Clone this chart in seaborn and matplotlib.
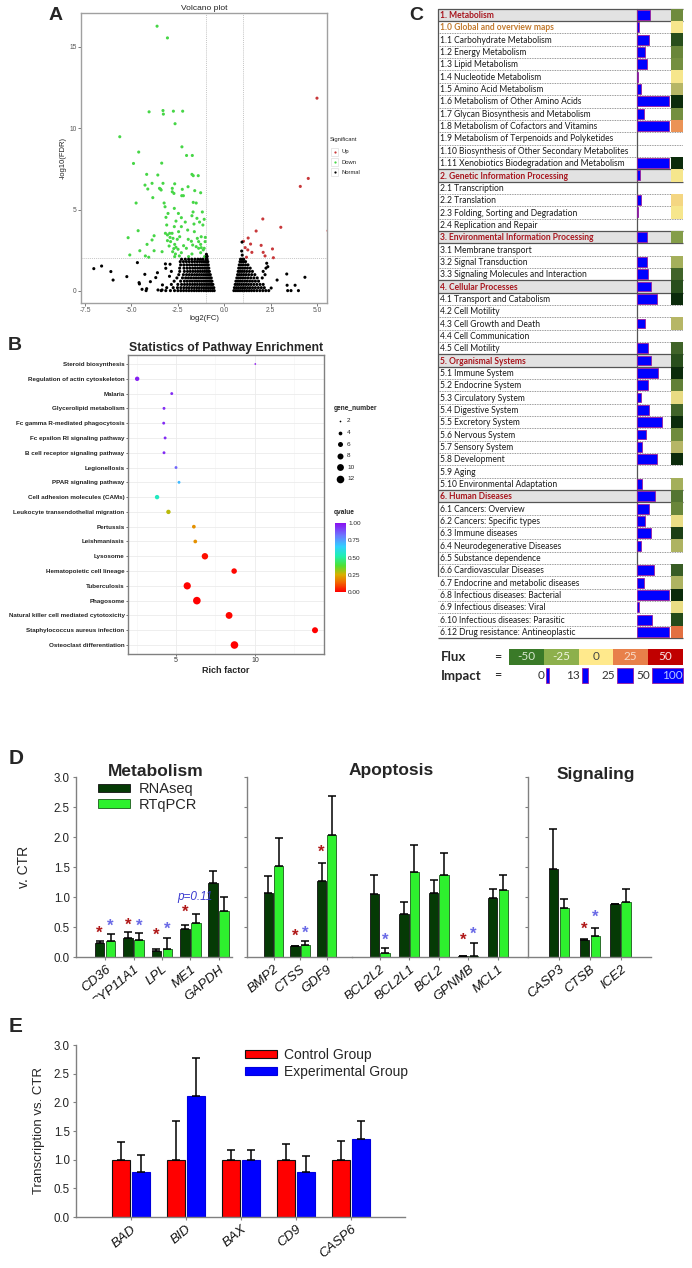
import numpy as np
import pandas as pd
import matplotlib
matplotlib.use("Agg")
import matplotlib.pyplot as plt
import seaborn as sns
from matplotlib.colors import LinearSegmentedColormap, Normalize
from matplotlib.patches import Rectangle, Patch
from matplotlib.lines import Line2D
from matplotlib.transforms import Bbox, TransformedBbox
from matplotlib.cm import ScalarMappable
from matplotlib.ticker import FormatStrFormatter

nan = np.nan

# ======================= DATA =======================
# ---- Panel A: volcano plot (log2FC, -log10 FDR) ----
up_pts = [(5.0, 11.84), (4.53, 6.91), (4.10, 6.42), (3.05, 3.91), (2.08, 4.42), (1.72, 3.68),
          (1.29, 3.25), (1.04, 3.05), (1.13, 2.66), (1.42, 2.88), (1.99, 2.80), (1.27, 2.52),
          (1.49, 2.37), (2.10, 2.37), (2.60, 2.58), (2.20, 2.15), (2.65, 2.04), (1.20, 2.07), (5.6, 3.7)]
down_pts = [(-3.62, 16.26), (-3.06, 15.54), (-4.05, 11.0), (-3.30, 11.08), (-3.28, 10.86), (-2.74, 11.04),
            (-2.24, 11.04), (-2.65, 10.27), (-5.63, 9.47), (-2.28, 8.85), (-4.61, 8.53), (-2.03, 8.32),
            (-1.72, 8.32), (-4.89, 7.83), (-3.37, 7.85), (-4.18, 7.16), (-3.58, 7.12), (-1.74, 7.16),
            (-1.67, 7.08), (-1.40, 7.08), (-3.89, 6.61), (-3.30, 6.61), (-4.27, 6.50), (-2.67, 6.58),
            (-4.12, 6.26), (-3.49, 6.30), (-3.44, 6.26), (-3.40, 6.20), (-2.80, 6.30), (-1.95, 6.40),
            (-2.26, 6.24), (-1.59, 6.16), (-1.27, 6.03), (-2.80, 6.09), (-2.71, 5.99), (-2.29, 5.85),
            (-2.20, 5.85), (-3.85, 5.73), (-4.75, 5.40), (-3.24, 5.40), (-1.67, 5.44), (-1.51, 5.40),
            (-3.19, 5.17), (-2.69, 5.07), (-1.68, 4.85), (-1.18, 4.85), (-3.03, 4.76), (-2.47, 4.76),
            (-1.74, 4.62), (-3.14, 4.52), (-2.31, 4.50), (-1.47, 4.46), (-1.08, 4.40), (-2.60, 4.29),
            (-2.10, 4.23), (-1.33, 4.23), (-3.10, 4.05), (-1.63, 4.11), (-1.15, 4.05), (-2.69, 3.95),
            (-2.31, 3.95), (-4.64, 3.70), (-1.97, 3.74), (-1.61, 3.64), (-2.46, 3.64), (-3.17, 3.54),
            (-2.94, 3.54), (-2.81, 3.54), (-3.06, 3.44), (-3.78, 3.39), (-2.40, 3.33), (-1.24, 3.33),
            (-5.18, 3.27), (-2.92, 3.29), (-2.76, 3.23), (-1.45, 3.23), (-1.02, 3.29), (-2.53, 3.17),
            (-1.94, 3.17), (-3.89, 3.13), (-3.06, 3.09), (-2.89, 3.03), (-1.77, 3.05), (-1.38, 3.03),
            (-1.03, 3.03), (-4.16, 2.86), (-2.67, 2.86), (-2.19, 2.78), (-1.70, 2.82), (-1.27, 2.86),
            (-2.97, 2.76), (-2.60, 2.68), (-1.51, 2.72), (-1.24, 2.66), (-1.08, 2.62), (-2.72, 2.60),
            (-2.49, 2.56), (-2.04, 2.62), (-1.38, 2.62), (-4.55, 2.47), (-3.78, 2.47), (-3.35, 2.41),
            (-2.78, 2.41), (-1.13, 2.52), (-2.31, 2.35), (-2.63, 2.27), (-1.74, 2.27), (-1.27, 2.35),
            (-5.09, 2.21), (-4.25, 2.15), (-4.07, 2.07), (-2.67, 2.11), (-2.42, 2.15), (-1.92, 2.11),
            (-1.06, 2.11)]
normal_scatter = [(-7.03, 1.37), (-6.61, 1.53), (-6.11, 1.19), (-5.99, 0.67), (-5.25, 0.88), (-4.68, 1.74),
                  (-4.59, 0.51), (-4.57, 0.43), (-4.28, 1.02), (-4.43, 0.10), (-4.18, 0.14), (-4.21, 0.02),
                  (-3.98, 0.57), (-3.60, 1.12), (-3.69, 0.82), (-3.57, 0.06), (-3.35, 0.06), (-3.33, 0.37),
                  (-3.17, 1.66), (-3.15, 1.39), (-2.92, 1.64), (-2.85, 1.2), (-2.95, 0.9), (3.37, 1.04),
                  (3.39, 0.35), (3.82, 0.35), (3.42, 0.02), (3.60, 0.02), (4.0, 0.02), (4.35, 0.84),
                  (2.85, 0.67), (2.53, 0.18), (2.35, 1.49), (2.29, 1.70), (0.96, 3.0), (0.94, 2.45),
                  (0.97, 2.2), (-0.95, 2.1), (-0.92, 2.12), (-0.96, 2.25)]
normal_rows_left = [
    (0.02, [-3.4, -3.15, -2.9, -2.68, -2.5, -2.34, -2.19, -2.04, -1.9, -1.76, -1.62, -1.49, -1.36, -1.23, -1.1, -0.98, -0.86, -0.75, -0.64, -0.54]),
    (0.2, [-3.1, -2.75, -2.52, -2.34, -2.18, -2.03, -1.89, -1.75, -1.61, -1.48, -1.35, -1.22, -1.1, -0.98, -0.87, -0.76, -0.66, -0.56]),
    (0.4, [-2.85, -2.5, -2.3, -2.14, -1.99, -1.85, -1.71, -1.58, -1.45, -1.32, -1.2, -1.08, -0.97, -0.87, -0.77, -0.68, -0.61]),
    (0.6, [-2.7, -2.35, -2.15, -2.0, -1.86, -1.72, -1.59, -1.46, -1.34, -1.22, -1.1, -0.99, -0.89, -0.8, -0.72, -0.66]),
    (0.8, [-2.55, -2.25, -2.08, -1.93, -1.79, -1.65, -1.52, -1.39, -1.27, -1.15, -1.04, -0.94, -0.85, -0.77, -0.7]),
    (1.0, [-2.45, -2.2, -2.03, -1.88, -1.74, -1.6, -1.47, -1.34, -1.22, -1.1, -0.99, -0.9, -0.82, -0.75]),
    (1.2, [-2.4, -2.15, -1.98, -1.83, -1.69, -1.55, -1.42, -1.29, -1.17, -1.06, -0.96, -0.87, -0.8]),
    (1.4, [-2.4, -2.17, -2.0, -1.85, -1.7, -1.56, -1.43, -1.3, -1.18, -1.07, -0.98, -0.9, -0.83]),
    (1.6, [-2.35, -2.18, -2.02, -1.87, -1.72, -1.58, -1.45, -1.32, -1.2, -1.09, -1.0, -0.92, -0.86]),
    (1.8, [-2.37, -2.2, -2.04, -1.89, -1.74, -1.6, -1.46, -1.33, -1.21, -1.1, -1.01, -0.93, -0.88]),
    (1.95, [-2.3, -2.1, -1.92, -1.75, -1.58, -1.42, -1.28, -1.15, -0.98, -0.92]),
]
normal_rows_right = [
    (0.02, [0.52, 0.63, 0.74, 0.85, 0.97, 1.09, 1.21, 1.34, 1.47, 1.61, 1.76, 1.92, 2.08, 2.24, 2.4]),
    (0.2, [0.55, 0.66, 0.77, 0.89, 1.01, 1.13, 1.26, 1.39, 1.53, 1.68, 1.84, 2.0, 2.16]),
    (0.4, [0.59, 0.7, 0.81, 0.93, 1.05, 1.18, 1.31, 1.45, 1.6, 1.76, 1.93, 2.1]),
    (0.6, [0.63, 0.74, 0.85, 0.97, 1.1, 1.23, 1.37, 1.52, 1.68, 1.85]),
    (0.8, [0.68, 0.78, 0.89, 1.01, 1.14, 1.28, 1.43, 1.6, 1.78, 2.05]),
    (1.0, [0.72, 0.82, 0.93, 1.05, 1.18, 1.32, 1.48, 1.65, 2.2]),
    (1.2, [0.75, 0.85, 0.96, 1.08, 1.21, 1.36, 1.52, 2.1]),
    (1.4, [0.78, 0.88, 0.99, 1.11, 1.25, 1.4, 2.25]),
    (1.6, [0.81, 0.91, 1.02, 1.15, 1.28]),
    (1.8, [0.85, 0.95, 1.05, 1.15]),
    (1.95, [0.88, 0.97, 1.05]),
]
volcano_xticks = [-7.5, -5.0, -2.5, 0.0, 2.5, 5.0]
volcano_yticks = [0, 5, 10, 15]

# ---- Panel B: pathway enrichment ----
pathways = ["Steroid biosynthesis", "Regulation of actin cytoskeleton", "Malaria", "Glycerolipid metabolism",
            "Fc gamma R-mediated phagocytosis", "Fc epsilon RI signaling pathway",
            "B cell receptor signaling pathway", "Legionellosis", "PPAR signaling pathway",
            "Cell adhesion molecules (CAMs)", "Leukocyte transendothelial migration", "Pertussis",
            "Leishmaniasis", "Lysosome", "Hematopoietic cell lineage", "Tuberculosis", "Phagosome",
            "Natural killer cell mediated cytotoxicity", "Staphylococcus aureus infection",
            "Osteoclast differentiation"]
rich_factor = [10.02, 2.54, 4.73, 4.24, 4.22, 4.31, 4.24, 5.0, 5.19, 3.80, 4.52, 6.13, 6.22, 6.83,
               8.68, 5.71, 6.32, 8.36, 13.8, 8.70]
gene_number = [2, 5, 3, 3, 3, 3, 3, 3, 3, 5, 5, 4, 4, 9, 7, 11, 12, 10, 8, 12]
qvalue = [1.0, 0.97, 0.95, 0.95, 0.95, 0.95, 0.95, 0.85, 0.70, 0.55, 0.28, 0.2, 0.2, 0.02, 0.01,
          0.005, 0.0, 0.01, 0.0, 0.0]
size_legend_values = [2, 4, 6, 8, 10, 12]
q_legend_values = [0.0, 0.25, 0.5, 0.75, 1.0]

# ---- Panel C: KEGG table ----
c_labels = ["1. Metabolism", "1.0 Global and overview maps", "1.1 Carbohydrate Metabolism",
            "1.2 Energy Metabolism", "1.3 Lipid Metabolism", "1.4 Nucleotide Metabolism",
            "1.5 Amino Acid Metabolism", "1.6 Metabolism of Other Amino Acids",
            "1.7 Glycan Biosynthesis and Metabolism", "1.8 Metabolism of Cofactors and Vitamins",
            "1.9 Metabolism of Terpenoids and Polyketides", "1.10 Biosynthesis of Other Secondary Metabolites",
            "1.11 Xenobiotics Biodegradation and Metabolism", "2. Genetic Information Processing",
            "2.1 Transcription", "2.2 Translation", "2.3 Folding, Sorting and Degradation",
            "2.4 Replication and Repair", "3. Environmental Information Processing",
            "3.1 Membrane transport", "3.2 Signal Transduction", "3.3 Signaling Molecules and Interaction",
            "4. Cellular Processes", "4.1 Transport and Catabolism", "4.2 Cell Motility",
            "4.3 Cell Growth and Death", "4.4 Cell Communication", "4.5 Cell Motility",
            "5. Organismal Systems", "5.1 Immune System", "5.2 Endocrine System", "5.3 Circulatory System",
            "5.4 Digestive System", "5.5 Excretory System", "5.6 Nervous System", "5.7 Sensory System",
            "5.8 Development", "5.9 Aging", "5.10 Environmental Adaptation", "6. Human Diseases",
            "6.1 Cancers: Overview", "6.2 Cancers: Specific types", "6.3 Immune diseases",
            "6.4 Neurodegenerative Diseases", "6.5 Substance dependence", "6.6 Cardiovascular Diseases",
            "6.7 Endocrine and metabolic diseases", "6.8 Infectious diseases: Bacterial",
            "6.9 Infectious diseases: Viral", "6.10 Infectious diseases: Parasitic",
            "6.12 Drug resistance: Antineoplastic"]
c_impact = [41, 7, 37, 26, 30, 3, 11, 100, 21, 100, nan, nan, 100, 9, nan, 12, 4, nan, 31, nan, 30, 34,
            42, 63, nan, 24, nan, 33, 42, 66, 33, 13, 36, 78, 28, 14, 61, nan, 14, 55, 38, 25, 43, 13,
            nan, 52, 21, 100, 5, 47, 100]
c_flux = [-40, 0, -70, -42, -38, 0, -12, -90, -38, 20, nan, nan, -90, 0, nan, 4, 0, nan, -30, nan, -18,
          -58, -70, -90, nan, -12, nan, -58, -70, -90, -45, -3, -58, -90, -40, -12, -90, nan, -18, -50,
          -42, -2, -78, -15, nan, -62, -15, -90, -2, -72, 28]
flux_legend_values = ["-50", "-25", "0", "25", "50"]
impact_legend_values = ["0", "13", "25", "50"]

# ---- Panel D: RNAseq vs RTqPCR ----
methods_d = ["RNAseq", "RTqPCR"]
metab_genes = ["CD36", "CYP11A1", "LPL", "ME1", "GAPDH"]
metab_rna = [0.24, 0.32, 0.10, 0.47, 1.23]
metab_rna_err = [0.26, 0.42, 0.14, 0.53, 1.43]
metab_qpcr = [0.26, 0.29, 0.13, 0.56, 0.77]
metab_qpcr_err = [0.38, 0.40, 0.31, 0.71, 1.00]
metab_star_rna = [0.40, 0.53, 0.36, 0.74, nan]
metab_star_qpcr = [0.52, 0.52, 0.46, nan, nan]

apop1_genes = ["BMP2", "CTSS", "GDF9"]
apop1_rna = [1.07, 0.18, 1.27]
apop1_rna_err = [1.35, 0.18, 1.56]
apop1_qpcr = [1.52, 0.20, 2.03]
apop1_qpcr_err = [1.99, 0.27, 2.69]
apop1_star_rna = [nan, 0.35, 1.74]
apop1_star_qpcr = [nan, 0.40, nan]

apop2_genes = ["BCL2L2", "BCL2L1", "BCL2", "GPNMB", "MCL1"]
apop2_rna = [1.05, 0.71, 1.06, 0.02, 0.99]
apop2_rna_err = [1.37, 0.92, 1.29, 0.02, 1.14]
apop2_qpcr = [0.06, 1.42, 1.36, 0.01, 1.12]
apop2_qpcr_err = [0.15, 1.86, 1.74, 0.23, 1.37]
apop2_star_rna = [nan, nan, nan, 0.28, nan]
apop2_star_qpcr = [0.28, nan, nan, 0.38, nan]

sig_genes = ["CASP3", "CTSB", "ICE2"]
sig_rna = [1.46, 0.29, 0.88]
sig_rna_err = [2.13, 0.30, 0.89]
sig_qpcr = [0.82, 0.35, 0.92]
sig_qpcr_err = [0.97, 0.48, 1.14]
sig_star_rna = [nan, 0.47, nan]
sig_star_qpcr = [nan, 0.66, nan]

# ---- Panel E ----
groups_e = ["Control Group", "Experimental Group"]
e_genes = ["BAD", "BID", "BAX", "CD9", "CASP6"]
e_ctrl = [1.0, 1.0, 1.0, 1.0, 1.0]
e_ctrl_err = [1.31, 1.67, 1.17, 1.28, 1.32]
e_exp = [0.78, 2.11, 1.0, 0.78, 1.36]
e_exp_err = [1.09, 2.77, 1.17, 1.06, 1.67]
bar_yticks = [0.0, 0.5, 1.0, 1.5, 2.0, 2.5, 3.0]

# ======================= FIGURE =======================
sns.set_theme(style="white")
plt.rcParams['font.family'] = ['Liberation Sans', 'DejaVu Sans']
plt.rcParams['axes.linewidth'] = 0.8

W, H = 692, 1268
fig = plt.figure(figsize=(W / 100, H / 100), dpi=100)
fig.patch.set_facecolor('white')


def px_ax(x0, y0, x1, y1, **kw):
    return fig.add_axes([x0 / W, 1 - y1 / H, (x1 - x0) / W, (y1 - y0) / H], **kw)


def fx(x):
    return x / W


def fy(y):
    return 1 - y / H


def ftext(x, y, s, **kw):
    return fig.text(fx(x), fy(y), s, **kw)


NARROW = ['Liberation Sans Narrow', 'Liberation Sans', 'DejaVu Sans']
CAL = ['Lato', 'DejaVu Sans']

# ---------------- Panel A ----------------
recs = [(x, y, 'Up') for x, y in up_pts] + [(x, y, 'Down') for x, y in down_pts]
recs += [(x, y, 'Normal') for x, y in normal_scatter]
for yv, xs in normal_rows_left + normal_rows_right:
    recs += [(x, yv, 'Normal') for x in xs]
dfA = pd.DataFrame(recs, columns=['log2FC', 'nlogFDR', 'Significant'])
volc_pal = {'Up': '#C8383A', 'Down': '#46D646', 'Normal': '#000000'}

axA = px_ax(81, 13, 327, 303)
axA.axvline(-1, color='#B0B0B0', lw=0.5, ls=(0, (1.5, 1.5)), zorder=1)
axA.axvline(1, color='#B0B0B0', lw=0.5, ls=(0, (1.5, 1.5)), zorder=1)
axA.axhline(2, color='#B0B0B0', lw=0.5, ls=(0, (1.5, 1.5)), zorder=1)
sns.scatterplot(data=dfA, x='log2FC', y='nlogFDR', hue='Significant', palette=volc_pal, s=5,
                linewidth=0, ax=axA, legend=False, zorder=3)
axA.set_xlim(-7.72, 5.54)
axA.set_ylim(-0.74, 17.07)
axA.set_xticks(volcano_xticks)
axA.set_xticklabels([f"{v:.1f}" for v in volcano_xticks])
axA.set_yticks(volcano_yticks)
axA.tick_params(labelsize=4.8, labelcolor='#555555', color='#444444', length=2, width=0.5, pad=1,
                bottom=True, left=True)
for s in axA.spines.values():
    s.set_color('#A0A0A0')
    s.set_linewidth(1.0)
axA.set_xlabel('log2(FC)', fontsize=5.5, labelpad=0.5, color='#222222')
axA.set_ylabel('-log10(FDR)', fontsize=5.5, labelpad=2, color='#222222')
axA.set_title('Volcano plot', fontsize=6, pad=2, color='#222222')
ftext(49, 15, 'A', fontsize=14, fontweight='bold', va='center')
# legend
ftext(330, 139, 'Significant', fontsize=4.2, va='center', color='#222222')
for i, (lab, col) in enumerate([('Up', volc_pal['Up']), ('Down', volc_pal['Down']), ('Normal', 'black')]):
    yc = 152 + i * 10
    fig.add_artist(Rectangle((fx(331), fy(yc + 4)), 7 / W, 8 / H, transform=fig.transFigure,
                             facecolor='white', edgecolor='#DDDDDD', lw=0.5))
    fig.add_artist(Line2D([fx(334.5)], [fy(yc)], marker='o', ms=1.6, color=col, mec='none',
                          transform=fig.transFigure))
    ftext(341, yc, lab, fontsize=4.2, va='center', color='#222222')

# ---------------- Panel B ----------------
q_cmap = LinearSegmentedColormap.from_list('q', [
    (0.0, '#FF0000'), (0.15, '#F07000'), (0.25, '#D8B000'), (0.38, '#50E030'), (0.52, '#20F0B0'),
    (0.66, '#30D0FF'), (0.82, '#6C78FF'), (1.0, '#8A10F0')])
dfB = pd.DataFrame({'pathway': pathways, 'rich': rich_factor, 'gene_number': gene_number,
                    'qvalue': qvalue})
rowB = 14.79
topB = 364
axB = px_ax(128, topB - 0.6 * rowB, 324, topB + 19.6 * rowB)
axB.set_axisbelow(True)
sns.scatterplot(data=dfB, x='rich', y='pathway', size='gene_number', sizes=(1.5, 30), size_norm=(2, 12),
                hue='qvalue', palette=q_cmap, hue_norm=(0, 1), legend=False, linewidth=0, ax=axB, zorder=3)
axB.set_ylim(19.6, -0.6)
axB.set_xlim(1.96, 14.37)
axB.set_xticks([5, 10])
axB.set_xticks([2.5, 7.5, 12.5], minor=True)
axB.grid(True, which='major', color='#EBEBEB', lw=0.6)
axB.grid(True, which='minor', axis='x', color='#F3F3F3', lw=0.4)
axB.tick_params(axis='y', labelsize=4.5, labelcolor='#222222', length=1.5, width=0.5, pad=1, left=True,
                color='#333333')
axB.tick_params(axis='x', labelsize=5, labelcolor='#333333', length=1.5, width=0.5, pad=1, bottom=True,
                color='#333333')
axB.tick_params(axis='x', which='minor', length=0)
for t in axB.get_yticklabels():
    t.set_fontweight('bold')
for s in axB.spines.values():
    s.set_color('#808080')
    s.set_linewidth(1.0)
axB.set_xlabel('Rich factor', fontsize=6.5, fontweight='bold', labelpad=1.5)
axB.set_ylabel('')
axB.set_title('Statistics of Pathway Enrichment', fontsize=8.8, fontweight='bold', pad=3)
ftext(8, 345, 'B', fontsize=14, fontweight='bold', va='center')

# legend: gene_number
axBL = px_ax(328, 400, 380, 500)
axBL.set_xlim(328, 380)
axBL.set_ylim(500, 400)
axBL.axis('off')
ftext(334, 409, 'gene_number', fontsize=4.8, fontweight='bold', va='center')
for i, v in enumerate(size_legend_values):
    yc = 421 + i * 11.6
    axBL.scatter([340], [yc], s=1.5 + (v - 2) * 28.5 / 10, color='black', linewidth=0)
    axBL.text(347, yc, str(v), fontsize=4.6, va='center', color='#222222')
ftext(334, 513, 'qvalue', fontsize=4.8, fontweight='bold', va='center')
caxB = px_ax(335, 523, 346, 592)
cbB = fig.colorbar(ScalarMappable(norm=Normalize(0, 1), cmap=q_cmap), cax=caxB, ticks=q_legend_values)
cbB.outline.set_visible(False)
cbB.ax.tick_params(length=2, color='white', direction='in', labelsize=4.6, pad=1.5, width=0.5)
cbB.ax.set_yticklabels([f"{v:.2f}" for v in q_legend_values])

# ---------------- Panel C ----------------
nC = len(c_labels)
is_header = [lab.split(' ')[0].count('.') == 1 and lab.split(' ')[0].endswith('.') for lab in c_labels]
c_top, c_row = 8.8, 12.34
c_bot = c_top + nC * c_row
ext = (683 - 438) / (637 - 438)
axCt = px_ax(438, c_top, 637, c_bot)
axCt.set_xlim(0, 1)
axCt.set_ylim(nC, 0)
axCt.axis('off')
for i, lab in enumerate(c_labels):
    if is_header[i]:
        axCt.add_patch(Rectangle((0, i), ext, 1, facecolor='#E2E2E2', edgecolor='none', clip_on=False,
                                 zorder=0))
        col, wt = '#A8161E', 'bold'
    elif lab.startswith('1.0 '):
        col, wt = '#C27A2E', 'bold'
    else:
        col, wt = '#1A1A1A', 'normal'
    axCt.text(0.012, i + 0.55, lab, va='center', ha='left', fontsize=6.15, family=CAL, color=col,
              fontweight=wt)
for b in range(nC + 1):
    solid = b == 0 or b == nC or (b < nC and is_header[b]) or (b > 0 and is_header[b - 1])
    if solid:
        axCt.plot([0, ext], [b, b], color='#555555', lw=0.9, clip_on=False, solid_capstyle='butt')
    else:
        axCt.plot([0, ext], [b, b], color='#777777', lw=0.6, ls=(0, (1, 1)), clip_on=False)
axCt.plot([0, 0], [0, 46], color='#555555', lw=0.9, clip_on=False)
axCt.plot([1, 1], [0, 46], color='#555555', lw=0.9, clip_on=False)

axCb = px_ax(637, c_top, 671, c_bot)
axCb.patch.set_alpha(0)
dfC = pd.DataFrame({'row': c_labels, 'impact': c_impact}).dropna()
sns.barplot(data=dfC, x='impact', y='row', order=c_labels, orient='h', color='#0000FF', saturation=1,
            edgecolor='#9A1E9A', linewidth=0.6, width=0.8, ax=axCb)
axCb.set_xlim(0, 105)
axCb.set_ylim(nC - 0.5, -0.5)
axCb.axis('off')

flux_nodes = [(-90, '#0B2B0B'), (-70, '#284E1C'), (-55, '#46692C'), (-40, '#6F8B3D'), (-25, '#8FA64F'),
              (-12, '#B6B666'), (0, '#F6E68C'), (25, '#E8804A'), (50, '#C00000')]
flux_cmap = LinearSegmentedColormap.from_list('flux', [((v + 90) / 140, c) for v, c in flux_nodes])
axCf = px_ax(671, c_top, 683, c_bot)
axCf.patch.set_alpha(0)
flux_arr = np.array(c_flux, dtype=float).reshape(-1, 1)
sns.heatmap(flux_arr, ax=axCf, cmap=flux_cmap, vmin=-90, vmax=50, cbar=False, xticklabels=False,
            yticklabels=False, mask=np.isnan(flux_arr))
axCf.set_ylim(nC, 0)
ftext(409, 15, 'C', fontsize=14, fontweight='bold', va='center')

# Flux / Impact legend
axCL = px_ax(438, 640, 692, 692)
axCL.set_xlim(438, 692)
axCL.set_ylim(692, 640)
axCL.axis('off')
axCL.text(441, 657, 'Flux', fontsize=9.5, fontweight='bold', family=CAL, va='center')
axCL.text(494, 657, '=', fontsize=9, family=CAL, va='center')
axCL.text(441, 675.5, 'Impact', fontsize=9.5, fontweight='bold', family=CAL, va='center')
axCL.text(494, 675.5, '=', fontsize=9, family=CAL, va='center')
flux_leg_colors = ['#3A7A28', '#8DB04C', '#FFE98C', '#E8804A', '#C00000']
flux_leg_txt = ['#D8E8D0', '#EEF4DC', '#444444', '#F8DCC8', '#F8E4E4']
for i, (lab, c, tc) in enumerate(zip(flux_legend_values, flux_leg_colors, flux_leg_txt)):
    x0 = 509 + i * 34.8
    axCL.add_patch(Rectangle((x0, 648.5), 34.8, 16, facecolor=c, edgecolor='none'))
    axCL.text(x0 + 17.4, 656.5, lab, ha='center', va='center', fontsize=8.5, family=CAL, color=tc)
imp_bar_w = [3, 6, 16, 31]
imp_lab_x = [544, 580, 615, 650]
for lab, xl, bw in zip(impact_legend_values, imp_lab_x, imp_bar_w):
    axCL.text(xl, 675.5, lab, ha='right', va='center', fontsize=8.5, family=CAL, color='#333333')
    axCL.add_patch(Rectangle((xl + 2, 668), bw, 15, facecolor='#0000FF', edgecolor='#9A1E9A', lw=0.6))
axCL.text(683, 675.5, '100', ha='right', va='center', fontsize=8.5, family=CAL, color='#B8C8FF')

# ---------------- Panel D ----------------
D_DARK, D_LIGHT = '#053A05', '#2EF02E'
clip_bb = TransformedBbox(Bbox.from_extents(0, 1 - 999 / H, 1, 1), fig.transFigure)


def pair_bars(ax, genes, v1, v2, names, colors, ecolors, width, gap, lw=0.6):
    df = pd.DataFrame({'gene': genes * 2, 'grp': [names[0]] * len(genes) + [names[1]] * len(genes),
                       'value': list(v1) + list(v2)})
    sns.barplot(data=df, x='gene', y='value', hue='grp', order=genes, hue_order=names,
                palette=dict(zip(names, colors)), errorbar=None, width=width, gap=gap, saturation=1,
                ax=ax, legend=False, linewidth=lw)
    conts = []
    for cont, ec in zip(ax.containers[:2], ecolors):
        bars = sorted(list(cont), key=lambda b: b.get_x())
        for b in bars:
            b.set_edgecolor(ec)
        conts.append(bars)
    return conts


def add_err(ax, conts, tops_list):
    for bars, tops in zip(conts, tops_list):
        for b, t in zip(bars, tops):
            xc = b.get_x() + b.get_width() / 2
            h = b.get_height()
            ax.errorbar([xc], [h], yerr=[[0], [max(t - h, 0)]], fmt='none', ecolor='black',
                        elinewidth=1.1, capsize=2.6, capthick=1.1, zorder=4)


def add_stars(ax, conts, stars_list, colors):
    for bars, stars, col in zip(conts, stars_list, colors):
        for b, s in zip(bars, stars):
            if not np.isnan(s):
                ax.text(b.get_x() + b.get_width() / 2, s, '*', color=col, ha='center', va='center',
                        fontsize=12, fontweight='bold', zorder=5)


def style_bar_ax(ax, genes, xlim, left=True, ylabels=False, fs=9.5):
    ax.set_ylim(0, 3.0)
    ax.set_xlim(*xlim)
    ax.set_yticks(bar_yticks)
    ax.yaxis.set_major_formatter(FormatStrFormatter('%.1f'))
    ax.set_xticks(range(len(genes)))
    ax.set_xticklabels(genes, rotation=40, ha='right', rotation_mode='anchor', fontstyle='italic',
                       fontsize=fs)
    ax.tick_params(axis='x', length=2.5, width=0.8, color='#808080', pad=2, bottom=True, labelcolor='#111111')
    ax.tick_params(axis='y', length=2.5, width=0.8, color='#808080', pad=2, left=left,
                   labelleft=ylabels, labelsize=8.3, labelcolor='#222222')
    for side in ['top', 'right']:
        ax.spines[side].set_visible(False)
    ax.spines['left'].set_visible(left)
    for side in ['left', 'bottom']:
        ax.spines[side].set_color('#808080')
        ax.spines[side].set_linewidth(1.0)
    ax.set_xlabel('')
    ax.set_ylabel('')
    ax.patch.set_alpha(0)


d_panels = [
    ((76, 232), (-1.02, 4.46), metab_genes, metab_rna, metab_qpcr, metab_rna_err, metab_qpcr_err,
     metab_star_rna, metab_star_qpcr, 0.77, True, True),
    ((247, 352), (-1.0, 2.96), apop1_genes, apop1_rna, apop1_qpcr, apop1_rna_err, apop1_qpcr_err,
     apop1_star_rna, apop1_star_qpcr, 0.76, True, False),
    ((352, 527), (-0.93, 4.98), apop2_genes, apop2_rna, apop2_qpcr, apop2_rna_err, apop2_qpcr_err,
     apop2_star_rna, apop2_star_qpcr, 0.71, False, False),
    ((528, 651), (-1.0, 2.97), sig_genes, sig_rna, sig_qpcr, sig_rna_err, sig_qpcr_err,
     sig_star_rna, sig_star_qpcr, 0.71, True, False),
]
d_axes = []
for (x0, x1), xl, genes, r, q, re_, qe, sr, sq, wd, left, ylab in d_panels:
    ax = px_ax(x0, 777, x1, 957)
    conts = pair_bars(ax, genes, r, q, methods_d, [D_DARK, D_LIGHT], ['#111111', '#1A5A1A'], wd, 0.1)
    add_err(ax, conts, [re_, qe])
    add_stars(ax, conts, [sr, sq], ['#B01818', '#6A6AE6'])
    style_bar_ax(ax, genes, xl, left=left, ylabels=ylab)
    for lab in ax.get_xticklabels():
        lab.set_clip_box(clip_bb)
        lab.set_clip_on(True)
    d_axes.append((ax, conts))

ax1, conts1 = d_axes[0]
ax1.set_ylabel('v. CTR', fontsize=10, labelpad=16)
me1_idx = metab_genes.index('ME1')
bq = conts1[1][me1_idx]
ax1.text(bq.get_x() + bq.get_width() / 2 - 0.05, 1.0, 'p=0.11', color='#3A3AD0', fontstyle='italic',
         fontsize=8.5, ha='center', va='center', zorder=5)
ax1.legend(handles=[Patch(facecolor=D_DARK, edgecolor='#111111', lw=0.6, label='RNAseq'),
                    Patch(facecolor=D_LIGHT, edgecolor='#1A5A1A', lw=0.6, label='RTqPCR')],
           loc='upper left', bbox_to_anchor=(fx(98), fy(782)), bbox_transform=fig.transFigure,
           frameon=False, prop={'family': NARROW, 'size': 10.5}, handlelength=2.2, handleheight=0.5,
           handletextpad=0.6, labelspacing=0.12, borderpad=0, borderaxespad=0)
ftext(156, 771, 'Metabolism', ha='center', va='center', fontsize=12.5, fontweight='bold', family=NARROW)
ftext(391, 771, 'Apoptosis', ha='center', va='center', fontsize=12.5, fontweight='bold', family=NARROW)
ftext(596, 775, 'Signaling', ha='center', va='center', fontsize=12.5, fontweight='bold', family=NARROW)
ftext(9, 758, 'D', fontsize=15, fontweight='bold', va='center')

# ---------------- Panel E ----------------
axE = px_ax(76, 1045, 405, 1217)
contsE = pair_bars(axE, e_genes, e_ctrl, e_exp, groups_e, ['#FF0000', '#0000FF'], ['#111111', '#0000DD'],
                   0.73, 0.1, lw=0.8)
add_err(axE, contsE, [e_ctrl_err, e_exp_err])
style_bar_ax(axE, e_genes, (-1.0, 4.98), left=True, ylabels=True, fs=9.5)
axE.set_ylabel('Transcription vs. CTR', fontsize=9.5, labelpad=6)
axE.legend(handles=[Patch(facecolor='#FF0000', edgecolor='#111111', lw=0.8, label='Control Group'),
                    Patch(facecolor='#0000FF', edgecolor='#0000DD', lw=0.8, label='Experimental Group')],
           loc='upper left', bbox_to_anchor=(fx(245), fy(1048)), bbox_transform=fig.transFigure,
           frameon=False, fontsize=10, handlelength=2.3, handleheight=0.45, handletextpad=0.5,
           labelspacing=0.2, borderpad=0, borderaxespad=0)
ftext(9, 1027, 'E', fontsize=15, fontweight='bold', va='center')

fig.savefig('out.png', dpi=100, facecolor='white')
